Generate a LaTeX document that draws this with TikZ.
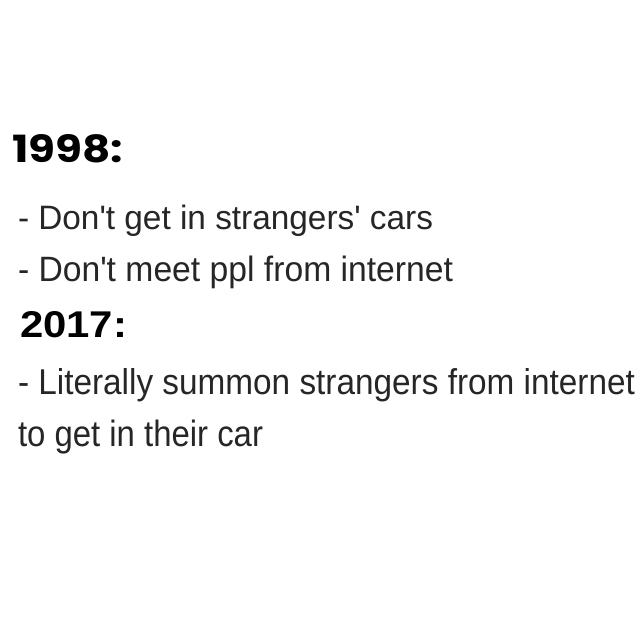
\documentclass[tikz,border=0pt]{standalone}
\usepackage{fontspec}
\setmainfont{Liberation Sans}
\newfontfamily\headfont{Poppins}[UprightFont=* Bold]
\newfontfamily\headfontb{Liberation Sans}[UprightFont=* Bold]
\definecolor{bodyc}{HTML}{262626}
\newcommand{\q}{\textquotesingle}
\begin{document}
\begin{tikzpicture}[x=1pt,y=1pt,
  txt/.style={anchor=base west,inner sep=0pt,outer sep=0pt,text=bodyc,font=\fontsize{30}{30}\selectfont},
  head/.style={anchor=base west,inner sep=0pt,outer sep=0pt,text=black}]
\useasboundingbox[fill=white] (0,0) rectangle (640,640);
\node[head] (h1) at (12,640-163) {\resizebox{111pt}{28pt}{\headfont 1998:}};
\node[txt] (l1) at (18,640-230) {\resizebox{415pt}{24.5pt}{- Don\q t get in strangers\q\ cars}};
\node[txt] (l2) at (18,640-282) {\resizebox{435pt}{25.5pt}{- Don\q t meet ppl from internet}};
\node[head] (h2) at (20,640-338) {\resizebox{107pt}{26pt}{\headfontb 2017:}};
\node[txt] (l3) at (18,640-395) {\resizebox{617pt}{26pt}{- Literally summon strangers from internet}};
\node[txt] (l4) at (18,640-447) {\resizebox{245pt}{26.5pt}{to get in their car}};
\end{tikzpicture}
\end{document}
